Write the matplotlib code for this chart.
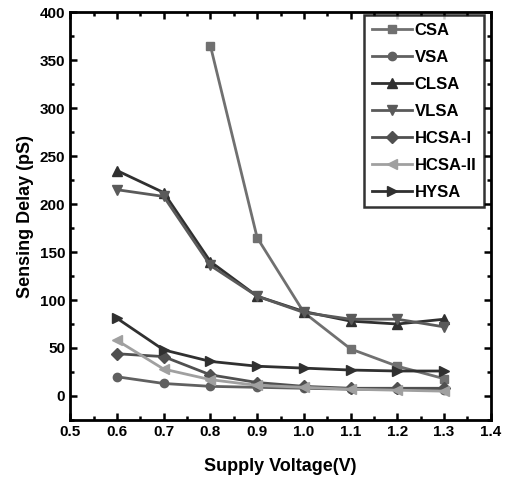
import matplotlib
matplotlib.use('Agg')
import matplotlib.pyplot as plt
from matplotlib.ticker import MultipleLocator

plt.rcParams['font.family'] = ['Liberation Sans', 'DejaVu Sans']
plt.rcParams['font.weight'] = 'bold'

# data
voltage = [0.6, 0.7, 0.8, 0.9, 1.0, 1.1, 1.2, 1.3]
csa_v = [0.8, 0.9, 1.0, 1.1, 1.2, 1.3]
csa = [365, 165, 87, 49, 31, 18]
vsa = [20, 13, 10, 9, 8, 7, 7, 6]
clsa = [235, 212, 140, 104, 88, 78, 75, 80]
vlsa = [215, 208, 136, 104, 87, 80, 80, 72]
hcsa1 = [44, 41, 22, 14, 10, 8, 8, 8]
hcsa2 = [58, 28, 17, 11, 9, 7, 6, 5]
hysa = [81, 48, 36, 31, 29, 27, 26, 26]

fig = plt.figure(figsize=(5.05, 4.9), dpi=100)
ax = fig.add_axes([0.139, 0.143, 0.833, 0.832])

ax.plot(csa_v, csa, marker='s', color='#707070', lw=2, ms=6, label='CSA')
ax.plot(voltage, vsa, marker='o', color='#606060', lw=2, ms=6, label='VSA')
ax.plot(voltage, clsa, marker='^', color='#303030', lw=2, ms=7, label='CLSA')
ax.plot(voltage, vlsa, marker='v', color='#5a5a5a', lw=2, ms=7, label='VLSA')
ax.plot(voltage, hcsa1, marker='D', color='#505050', lw=2, ms=6, label='HCSA-I')
ax.plot(voltage, hcsa2, marker='<', color='#a0a0a0', lw=2, ms=7, label='HCSA-II')
ax.plot(voltage, hysa, marker='>', color='#303030', lw=2, ms=7, label='HYSA')

ax.set_xlim(0.5, 1.4)
ax.set_ylim(-25, 400)
ax.xaxis.set_minor_locator(MultipleLocator(0.05))
ax.yaxis.set_minor_locator(MultipleLocator(25))
ax.set_xticks([0.5, 0.6, 0.7, 0.8, 0.9, 1.0, 1.1, 1.2, 1.3, 1.4])
ax.set_xticklabels(['0.5', '0.6', '0.7', '0.8', '0.9', '1.0', '1.1', '1.2', '1.3', '1.4'])
ax.set_yticks([0, 50, 100, 150, 200, 250, 300, 350, 400])

ax.tick_params(which='both', direction='in', top=True, right=True, width=1.8, labelsize=11)
ax.tick_params(which='major', length=5)
ax.tick_params(which='minor', length=3)
for s in ax.spines.values():
    s.set_linewidth(2)

ax.set_xlabel('Supply Voltage(V)', fontsize=13, fontweight='bold', labelpad=14)
ax.set_ylabel('Sensing Delay (pS)', fontsize=13, fontweight='bold', labelpad=4)

leg = ax.legend(loc='upper right', fontsize=12, frameon=True, fancybox=False,
                edgecolor='black', handlelength=2.4, borderpad=0.45,
                labelspacing=0.72, handletextpad=0.15, borderaxespad=0,
                bbox_to_anchor=(0.983, 0.993))
leg.get_frame().set_linewidth(1.8)
for t in leg.get_texts():
    t.set_fontweight('bold')

plt.savefig('out.png', dpi=100)
